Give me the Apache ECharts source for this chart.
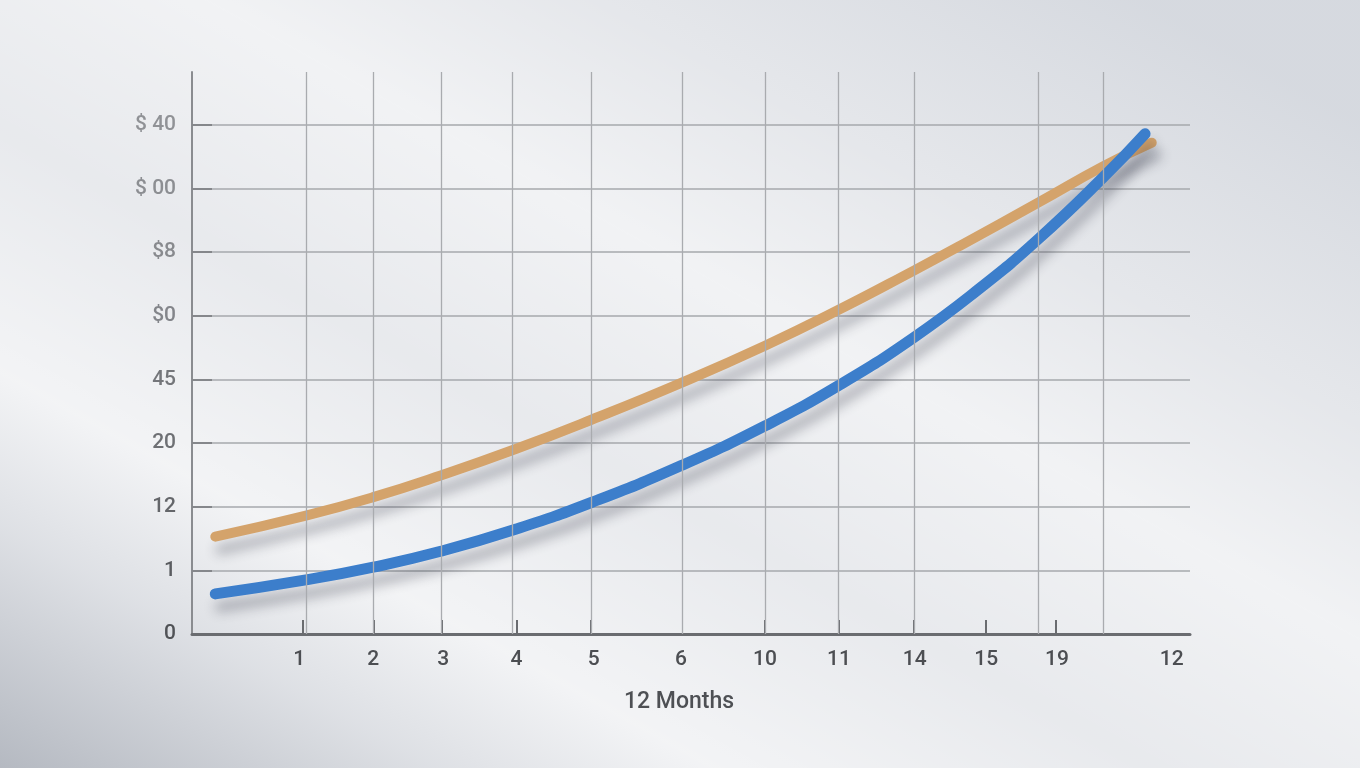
<!DOCTYPE html>
<html>
<head>
<meta charset="utf-8">
<script src="https://cdn.jsdelivr.net/npm/echarts@6/dist/echarts.min.js"></script>
<style>
html,body{margin:0;padding:0;width:1360px;height:768px;overflow:hidden;}
body{
  background:
    linear-gradient(29deg, rgba(110,118,132,0.40) 0%, rgba(110,118,132,0.05) 16%, rgba(255,255,255,0.55) 26%, rgba(255,255,255,0.15) 42%, rgba(255,255,255,0.50) 58%, rgba(255,255,255,0.05) 72%, rgba(150,160,176,0.18) 92%),
    #e4e6ea;
}
#chart{width:1360px;height:768px;}
</style>
</head>
<body>
<div id="chart"></div>
<script>
// Y axis tick labels (bottom to top)
const yLabels = ['0', '1', '12', '20', '45', '$0', '$8', '$ 00', '$ 40'];
const yLabelColors = ['#505256', '#5a5c60', '#64666a', '#6e7074', '#74767a', '#83858a', '#888a8e', '#8c8e92', '#909296'];
// X axis tick labels and where they sit on the month scale
const xLabels = ['1', '2', '3', '4', '5', '6', '10', '11', '14', '15', '19', '12'];
const xLabelPos = [1.29, 2.18, 3.02, 3.90, 4.83, 5.88, 6.89, 7.78, 8.69, 9.55, 10.40, 11.78];
const xTickPos = [1.33, 2.18, 3.00, 3.90, 4.80, 6.89, 7.78, 8.68, 9.54, 10.39];
const xGridPos = [1.37, 2.18, 3.00, 3.85, 4.80, 5.89, 6.89, 7.77, 8.68, 10.18, 10.96];

// Series: [month position, value]
const orangeX = [0.28, 1.37, 2.18, 2.99, 3.90, 4.81, 5.89, 6.89, 7.77, 8.68, 9.25, 10.18, 10.96, 11.54];
const orangeY = [1.53, 1.86, 2.15, 2.49, 2.91, 3.37, 3.95, 4.53, 5.09, 5.71, 6.11, 6.78, 7.35, 7.72];
const blueX = [0.28, 1.37, 2.18, 2.99, 3.90, 4.81, 5.89, 6.89, 7.77, 8.68, 9.49, 10.18, 10.96, 11.46];
const blueY = [0.63, 0.85, 1.05, 1.30, 1.65, 2.07, 2.65, 3.27, 3.90, 4.66, 5.45, 6.21, 7.18, 7.86];

const zip = (xs, ys) => xs.map((x, i) => [x, ys[i]]);
const findIdx = (arr, v) => arr.findIndex(p => Math.abs(p - v) < 1e-6);

const chart = echarts.init(document.getElementById('chart'), null, {renderer: 'canvas'});
chart.setOption({
  backgroundColor: 'transparent',
  animation: false,
  grid: {left: 192, right: 170, top: 72, bottom: 134, containLabel: false},
  xAxis: {
    type: 'value', min: 0, max: 12,
    axisLine: {show: true, lineStyle: {color: '#6a6c70', width: 3}},
    axisTick: {show: true, inside: true, length: 14, customValues: xTickPos,
      lineStyle: {color: '#6a6c70', width: 2}},
    axisLabel: {
      customValues: xLabelPos,
      formatter: v => { const i = findIdx(xLabelPos, v); return i >= 0 ? xLabels[i] : ''; },
      fontFamily: 'Roboto', fontWeight: 500, fontSize: 21, color: '#4c4e52', margin: 15
    },
    splitLine: {show: false},
    name: '12 Months', nameLocation: 'middle', nameGap: 57,
    nameTextStyle: {fontFamily: 'Roboto', fontWeight: 500, fontSize: 23, color: '#4e5054', padding: [0, 24, 0, 0]}
  },
  yAxis: {
    type: 'value', min: 0, max: 8.83, interval: 1,
    axisLine: {show: true, lineStyle: {color: '#8a8c90', width: 2}},
    axisTick: {show: true, inside: true, length: 20, customValues: [1, 2, 3, 4, 5, 6, 7, 8],
      lineStyle: {color: '#85878b', width: 2}},
    axisLabel: {
      customValues: [0, 1, 2, 3, 4, 5, 6, 7, 8],
      formatter: v => yLabels[Math.round(v)] || '',
      color: (v) => yLabelColors[Math.round(Number(v))] || '#888',
      fontFamily: 'Roboto', fontWeight: 500, fontSize: 21, margin: 16
    },
    splitLine: {show: true, lineStyle: {color: '#a6a8ac', width: 1.5}}
  },
  series: [
    {
      name: 'grid', type: 'line', data: [], z: 1, silent: true,
      markLine: {
        silent: true, symbol: ['none', 'none'], label: {show: false},
        lineStyle: {type: 'solid', color: '#a9abaf', width: 1.3},
        data: xGridPos.map(v => ({xAxis: v}))
      }
    },
    {
      name: 'Orange', type: 'line', smooth: 0.5, showSymbol: false, z: 3,
      data: zip(orangeX, orangeY),
      lineStyle: {color: '#d4a36b', width: 10, cap: 'round', join: 'round',
        shadowColor: 'rgba(40,44,60,0.30)', shadowBlur: 12, shadowOffsetX: 5, shadowOffsetY: 13}
    },
    {
      name: 'Blue', type: 'line', smooth: 0.5, showSymbol: false, z: 4,
      data: zip(blueX, blueY),
      lineStyle: {color: '#3c7ecb', width: 11, cap: 'round', join: 'round',
        shadowColor: 'rgba(40,44,60,0.30)', shadowBlur: 12, shadowOffsetX: 5, shadowOffsetY: 13}
    }
  ]
});
</script>
</body>
</html>
